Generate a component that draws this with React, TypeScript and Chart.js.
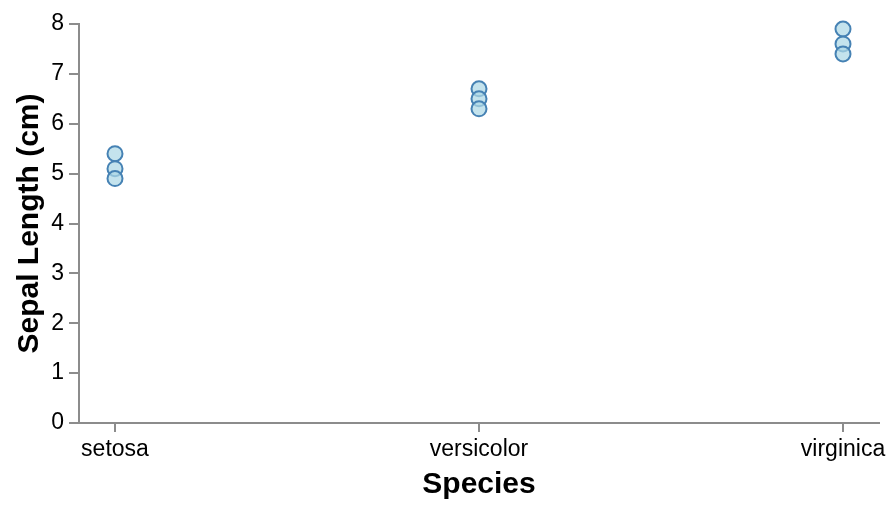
import React, { useEffect, useRef } from "react";
import { Chart, registerables } from "chart.js";

Chart.register(...registerables);

const species = ["setosa", "versicolor", "virginica"];
const setosaSepal = [5.4, 5.1, 4.9];
const versicolorSepal = [6.7, 6.5, 6.3];
const virginicaSepal = [7.9, 7.6, 7.4];
const yTicks = [0, 1, 2, 3, 4, 5, 6, 7, 8];

const FONT = "'Liberation Sans', Arial, Helvetica, sans-serif";

export default function App() {
  const ref = useRef<HTMLCanvasElement | null>(null);

  useEffect(() => {
    document.body.style.margin = "0";
    const groups = [setosaSepal, versicolorSepal, virginicaSepal];
    const points: { x: number; y: number }[] = [];
    groups.forEach((vals, i) => vals.forEach((v) => points.push({ x: i, y: v })));

    const chart = new Chart(ref.current as HTMLCanvasElement, {
      type: "scatter",
      data: {
        datasets: [
          {
            data: points,
            backgroundColor: "rgba(173,216,230,0.72)",
            borderColor: "#4682b4",
            borderWidth: 2,
            pointRadius: 7.5,
            pointHoverRadius: 7.5,
            clip: false,
          },
        ],
      },
      options: {
        animation: false,
        responsive: false,
        maintainAspectRatio: false,
        layout: { padding: { top: 24, right: 17, left: 0, bottom: 0 } },
        plugins: { legend: { display: false }, tooltip: { enabled: false } },
        scales: {
          x: {
            type: "linear",
            min: -0.0989,
            max: 2.0989,
            afterBuildTicks: (s: any) => {
              s.ticks = species.map((_, i) => ({ value: i }));
            },
            afterFit: (s: any) => {
              s.height = 85;
            },
            grid: {
              drawOnChartArea: false,
              drawTicks: true,
              tickLength: 9,
              color: "#8c8c8c",
              lineWidth: 2,
            },
            border: { display: true, color: "#8c8c8c", width: 2 },
            ticks: {
              autoSkip: false,
              maxRotation: 0,
              padding: 4,
              color: "#000000",
              font: { family: FONT, size: 23 },
              callback: (v: any) => species[Math.round(Number(v))] ?? "",
            },
            title: {
              display: true,
              text: "Species",
              color: "#000000",
              font: { family: FONT, size: 30, weight: "bold", lineHeight: 1.2 },
              padding: { top: 0, bottom: 5 },
            },
          },
          y: {
            type: "linear",
            min: 0,
            max: 8,
            afterBuildTicks: (s: any) => {
              s.ticks = yTicks.map((v) => ({ value: v }));
            },
            afterFit: (s: any) => {
              s.width = 79;
            },
            grid: {
              drawOnChartArea: false,
              drawTicks: true,
              tickLength: 10,
              color: "#8c8c8c",
              lineWidth: 2,
            },
            border: { display: true, color: "#8c8c8c", width: 2 },
            ticks: {
              padding: 5,
              color: "#000000",
              font: { family: FONT, size: 23 },
            },
            title: {
              display: true,
              text: "Sepal Length (cm)",
              color: "#000000",
              font: { family: FONT, size: 30, weight: "bold", lineHeight: 1.2 },
              padding: { top: 12, bottom: 0 },
            },
          },
        },
      },
    });
    return () => chart.destroy();
  }, []);

  return (
    <div style={{ width: 896, height: 508 }}>
      <canvas ref={ref} width={896} height={508} style={{ display: "block" }} />
    </div>
  );
}
